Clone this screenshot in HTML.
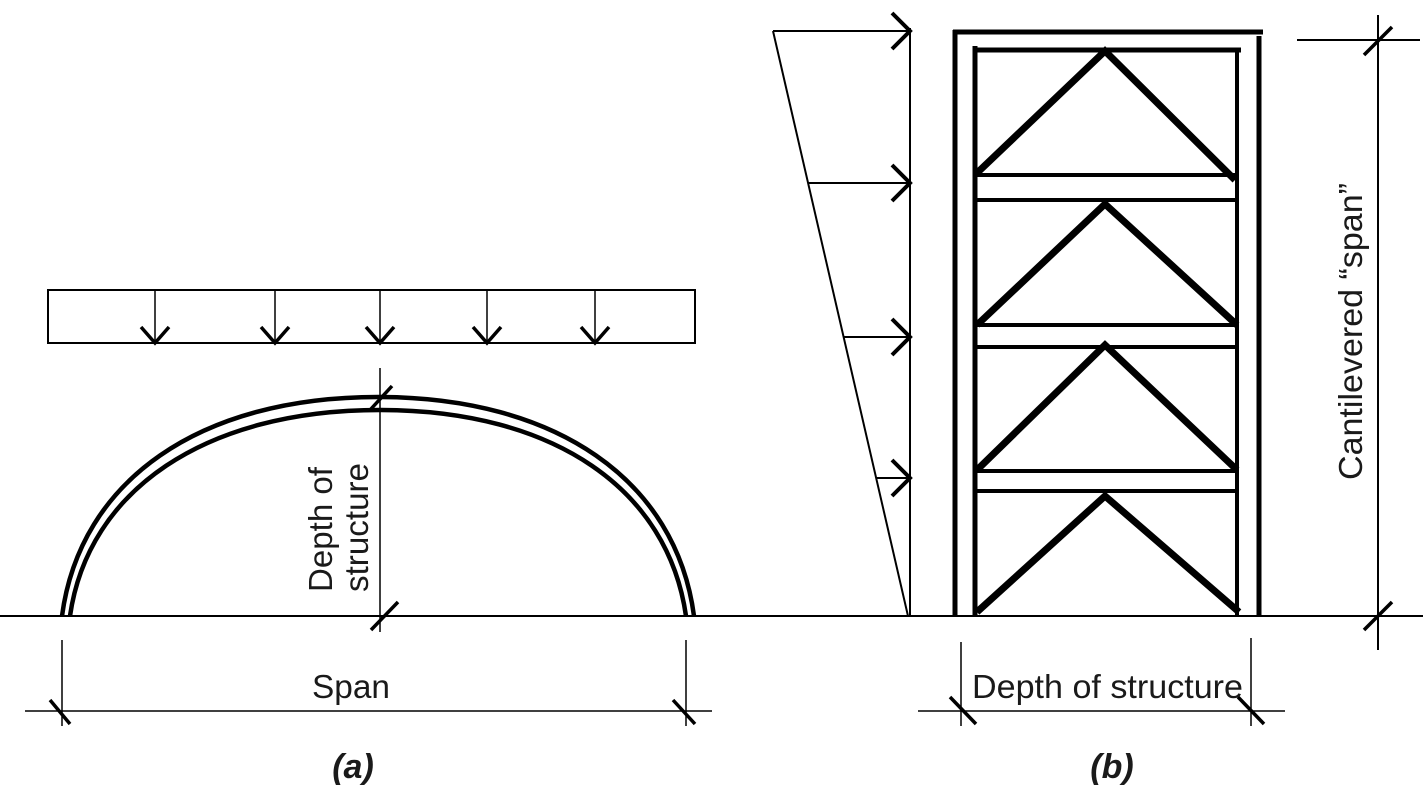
<!DOCTYPE html>
<html><head><meta charset="utf-8"><style>
html,body{margin:0;padding:0;background:#fff;}
svg{display:block;}
text{font-family:"Liberation Sans",Arial,sans-serif;fill:#1a1a1a;}
</style></head><body>
<svg width="1423" height="810" viewBox="0 0 1423 810" xmlns="http://www.w3.org/2000/svg">
<g stroke="#000" fill="none" stroke-linecap="butt">
<line x1="0" y1="616" x2="1423" y2="616" stroke-width="2"/>
<rect x="48" y="290" width="647" height="53" stroke-width="2"/>
<g stroke-width="1.5">
<line x1="155" y1="290" x2="155" y2="343"/><line x1="275" y1="290" x2="275" y2="343"/>
<line x1="380" y1="290" x2="380" y2="343"/><line x1="487" y1="290" x2="487" y2="343"/>
<line x1="595" y1="290" x2="595" y2="343"/>
</g>
<g stroke-width="3.5">
<polyline points="141,327 155,343 169,327"/><polyline points="261,327 275,343 289,327"/>
<polyline points="366,327 380,343 394,327"/><polyline points="473,327 487,343 501,327"/>
<polyline points="581,327 595,343 609,327"/>
</g>
<path d="M62,616 C80,480 200,397 378,397 C556,397 676,480 694,616" stroke-width="4.5"/>
<path d="M70,616 C88,490 205,410 380,410 C555,410 668,490 686,616" stroke-width="4.5"/>
<line x1="380" y1="368" x2="380" y2="632" stroke-width="1.5"/>
<line x1="370" y1="410" x2="392" y2="386" stroke-width="3.5"/>
<line x1="371" y1="630" x2="398" y2="602" stroke-width="3.5"/>
<line x1="25" y1="711" x2="712" y2="711" stroke-width="1.5"/>
<line x1="62" y1="640" x2="62" y2="726" stroke-width="1.5"/>
<line x1="686" y1="640" x2="686" y2="726" stroke-width="1.5"/>
<line x1="50" y1="700" x2="70" y2="724" stroke-width="3.5"/>
<line x1="673" y1="700" x2="695" y2="724" stroke-width="3.5"/>
<line x1="910" y1="28" x2="910" y2="616" stroke-width="2"/>
<line x1="773" y1="31" x2="908" y2="616" stroke-width="2"/>
<g stroke-width="2">
<line x1="773" y1="31" x2="910" y2="31"/>
<line x1="808" y1="183" x2="910" y2="183"/>
<line x1="844" y1="337" x2="910" y2="337"/>
<line x1="876" y1="478" x2="910" y2="478"/>
</g>
<g stroke-width="4">
<polyline points="892,13 910,31 892,49"/><polyline points="892,165 910,183 892,201"/>
<polyline points="892,319 910,337 892,355"/><polyline points="892,460 910,478 892,496"/>
</g>
<line x1="955" y1="30" x2="955" y2="616" stroke-width="5"/>
<line x1="953" y1="32" x2="1263" y2="32" stroke-width="5"/>
<line x1="1259" y1="36" x2="1259" y2="616" stroke-width="5"/>
<line x1="975" y1="46" x2="975" y2="616" stroke-width="5"/>
<line x1="973" y1="50" x2="1241" y2="50" stroke-width="5"/>
<line x1="1237" y1="52" x2="1237" y2="616" stroke-width="4"/>
<g stroke-width="4">
<line x1="975" y1="175" x2="1237" y2="175"/><line x1="975" y1="200" x2="1237" y2="200"/>
<line x1="975" y1="325" x2="1237" y2="325"/><line x1="975" y1="347" x2="1237" y2="347"/>
<line x1="975" y1="471" x2="1237" y2="471"/><line x1="975" y1="491" x2="1237" y2="491"/>
</g>
<g stroke-width="7" stroke-linejoin="miter">
<polyline points="977,173 1105,51 1235,180"/>
<polyline points="977,325 1105,204 1237,325"/>
<polyline points="977,470 1105,345 1237,470"/>
<polyline points="977,612 1105,496 1239,612"/>
</g>
<line x1="1378" y1="15" x2="1378" y2="650" stroke-width="2"/>
<line x1="1297" y1="40" x2="1420" y2="40" stroke-width="2"/>
<line x1="1364" y1="55" x2="1392" y2="27" stroke-width="3.5"/>
<line x1="1364" y1="630" x2="1392" y2="602" stroke-width="3.5"/>
<line x1="918" y1="711" x2="1285" y2="711" stroke-width="1.5"/>
<line x1="961" y1="642" x2="961" y2="726" stroke-width="1.5"/>
<line x1="1251" y1="638" x2="1251" y2="726" stroke-width="1.5"/>
<line x1="950" y1="697" x2="976" y2="724" stroke-width="3.5"/>
<line x1="1238" y1="697" x2="1264" y2="724" stroke-width="3.5"/>
</g>
<text x="312" y="698" font-size="33" textLength="78" lengthAdjust="spacingAndGlyphs">Span</text>
<text transform="translate(332,592) rotate(-90)" font-size="33" textLength="125" lengthAdjust="spacingAndGlyphs">Depth of</text>
<text transform="translate(368,592) rotate(-90)" font-size="33" textLength="129" lengthAdjust="spacingAndGlyphs">structure</text>
<text x="972" y="698" font-size="33" textLength="271" lengthAdjust="spacingAndGlyphs">Depth of structure</text>
<text transform="translate(1362,480) rotate(-90)" font-size="33" textLength="297" lengthAdjust="spacingAndGlyphs">Cantilevered “span”</text>
<text x="353" y="778" font-size="34" font-weight="bold" font-style="italic" text-anchor="middle">(a)</text>
<text x="1112" y="778" font-size="34" font-weight="bold" font-style="italic" text-anchor="middle">(b)</text>
</svg>
</body></html>
